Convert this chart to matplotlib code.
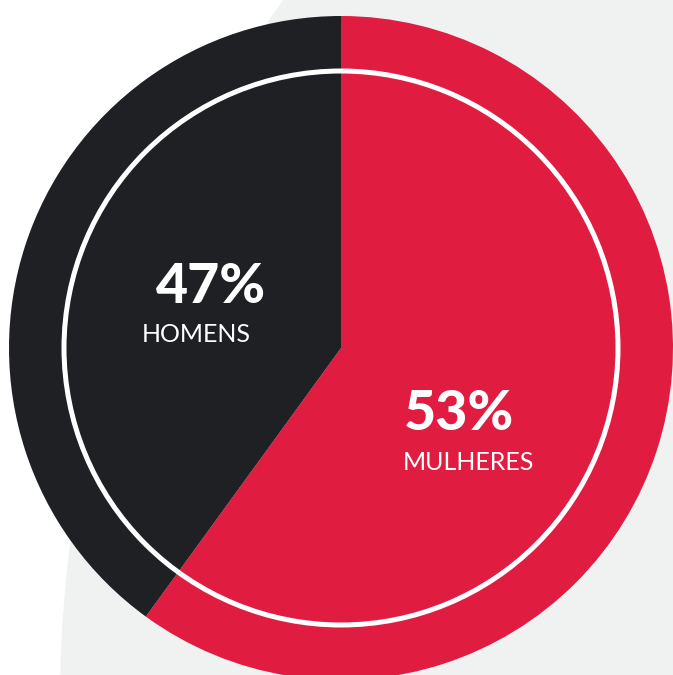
import matplotlib.pyplot as plt
from matplotlib.patches import Circle

# dados
labels = ["MULHERES", "HOMENS"]
pct_text = ["53%", "47%"]
# tamanho das fatias como aparece no desenho original
wedge_sizes = [60, 40]
colors = ["#E01C41", "#1E2023"]

W, H = 673, 675
fig = plt.figure(figsize=(W / 100, H / 100), dpi=100)
ax = fig.add_axes([0, 0, 1, 1])

# fundo cinza (circulo grande)
ax.add_patch(Circle((1270, H - 700), 1210, color="#F0F1F1", zorder=0, lw=0))

cx, cy, r = 341, H - 348, 332
ax.pie(wedge_sizes, colors=colors, startangle=90, counterclock=False,
       center=(cx, cy), radius=r, wedgeprops=dict(linewidth=0))

# anel branco
ax.add_patch(Circle((cx, cy), 277, fill=False, edgecolor="white", lw=3.6, zorder=5))

font = "Lato"
ax.text(211, H - 287, pct_text[1], color="white", fontsize=40, fontweight="black",
        family=font, ha="center", va="center", zorder=6)
ax.text(196, H - 335, labels[1], color="white", fontsize=18,
        family=font, ha="center", va="center", zorder=6)
ax.text(459, H - 414, pct_text[0], color="white", fontsize=40, fontweight="black",
        family=font, ha="center", va="center", zorder=6)
ax.text(468, H - 463, labels[0], color="white", fontsize=18,
        family=font, ha="center", va="center", zorder=6)

ax.set_xlim(0, W)
ax.set_ylim(0, H)
ax.set_aspect("equal")
ax.axis("off")
fig.savefig("out.png", dpi=100, facecolor="white")
